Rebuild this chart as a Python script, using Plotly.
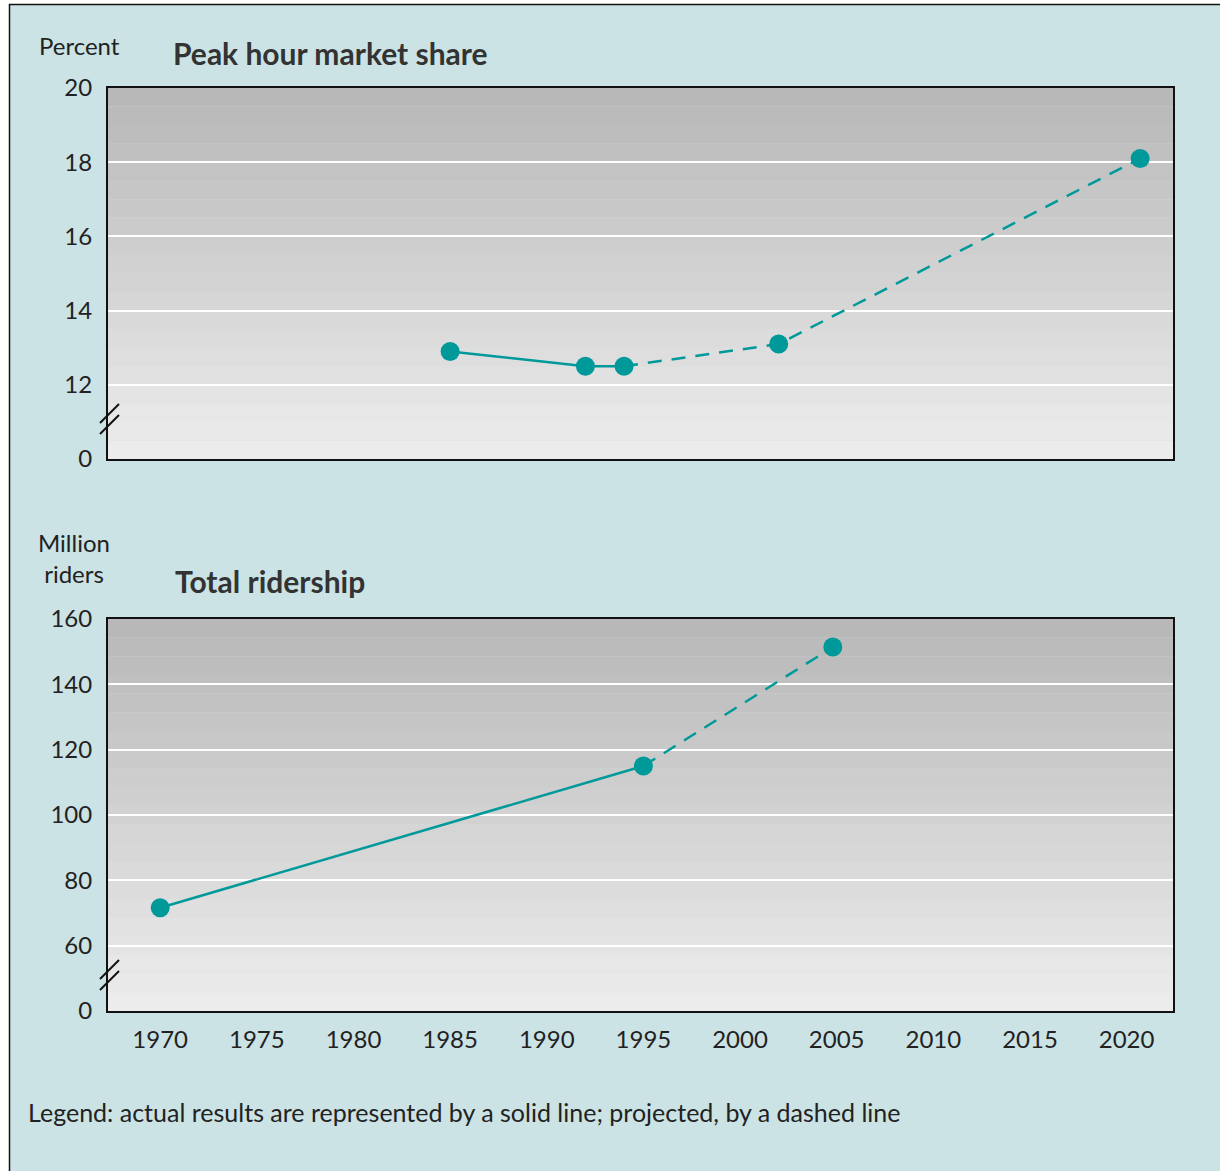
import plotly.graph_objects as go
from plotly.subplots import make_subplots

# Peak hour market share (percent)
share_actual_years = [1985, 1992, 1994]
share_actual_vals = [12.9, 12.5, 12.5]
share_proj_years = [1994, 2002, 2020.7]
share_proj_vals = [12.5, 13.1, 18.1]

# Total ridership (million riders)
riders_actual_years = [1970, 1995]
riders_actual_vals = [71.6, 115]
riders_proj_years = [1995, 2004.8]
riders_proj_vals = [115, 151.4]

x_ticks = [1970, 1975, 1980, 1985, 1990, 1995, 2000, 2005, 2010, 2015, 2020]
# axis break: the "0" label sits one step below the first real tick
share_tickvals = [10, 12, 14, 16, 18, 20]
share_ticktext = ["0", "12", "14", "16", "18", "20"]
riders_tickvals = [40, 60, 80, 100, 120, 140, 160]
riders_ticktext = ["0", "60", "80", "100", "120", "140", "160"]

TEAL = "#00999a"
FONT = "Lato"
W, H = 1220, 1171
L, R, T, B = 108, 47, 88, 160
PW, PH = W - L - R, H - T - B

def px_x(px):
    return (px - L) / PW

def px_y(py):
    return (H - B - py) / PH

top_dom = [px_y(459), 1.0]
bot_dom = [0.0, px_y(619)]

fig = make_subplots(rows=2, cols=1, shared_xaxes=False, vertical_spacing=0.1)

def add_series(row, xa, ya, xp, yp):
    fig.add_trace(go.Scatter(x=xp, y=yp, mode="lines",
                             line=dict(color=TEAL, width=2.5, dash="14px,10px"),
                             showlegend=False, hoverinfo="skip"), row=row, col=1)
    fig.add_trace(go.Scatter(x=xa, y=ya, mode="lines",
                             line=dict(color=TEAL, width=2.5),
                             showlegend=False, hoverinfo="skip"), row=row, col=1)
    xs = xa + [v for v in xp if v not in xa]
    ys = ya + [v for x, v in zip(xp, yp) if x not in xa]
    fig.add_trace(go.Scatter(x=xs, y=ys, mode="markers",
                             marker=dict(color=TEAL, size=19),
                             showlegend=False), row=row, col=1)

add_series(1, share_actual_years, share_actual_vals, share_proj_years, share_proj_vals)
add_series(2, riders_actual_years, riders_actual_vals, riders_proj_years, riders_proj_vals)

shapes = []
# page panel with border on the left and top
shapes.append(dict(type="rect", xref="paper", yref="paper",
                   x0=px_x(9), x1=px_x(1225), y0=px_y(4), y1=px_y(1176),
                   fillcolor="#cbe3e5", line=dict(width=0), layer="below"))
shapes.append(dict(type="line", xref="paper", yref="paper",
                   x0=px_x(9.5), x1=px_x(9.5), y0=px_y(4), y1=px_y(1176),
                   line=dict(color="#111", width=1.5), layer="below"))
shapes.append(dict(type="line", xref="paper", yref="paper",
                   x0=px_x(9), x1=px_x(1225), y0=px_y(4.5), y1=px_y(4.5),
                   line=dict(color="#111", width=1.5), layer="below"))

# banded grey gradient inside each plot area
def bands(dom, n):
    lo, hi = dom
    for i in range(n):
        t = i / (n - 1)
        g = int(round(236 - (236 - 184) * t))
        shapes.append(dict(type="rect", xref="paper", yref="paper",
                           x0=0, x1=1, y0=lo + (hi - lo) * i / n,
                           y1=lo + (hi - lo) * (i + 1) / n,
                           fillcolor=f"rgb({g},{g},{g})", line=dict(width=0),
                           layer="below"))

bands(top_dom, 20)
bands(bot_dom, 21)

# axis break marks
def break_marks(py):
    for off in (-5.5, 5.5):
        shapes.append(dict(type="line", xref="paper", yref="paper",
                           x0=px_x(100), x1=px_x(119),
                           y0=px_y(py + off + 9.5), y1=px_y(py + off - 9.5),
                           line=dict(color="#111", width=2)))

break_marks(419)
break_marks(975)

annotations = [
    dict(text="Percent", x=px_x(79), y=px_y(46), xanchor="center", yanchor="middle",
         font=dict(size=24, color="#222", family=FONT)),
    dict(text="<b>Peak hour market share</b>", x=px_x(171), y=px_y(53),
         xanchor="left", yanchor="middle", font=dict(size=30, color="#333", family=FONT)),
    dict(text="Million<br>riders", x=px_x(74), y=px_y(558), xanchor="center",
         yanchor="middle", font=dict(size=24, color="#222", family=FONT)),
    dict(text="<b>Total ridership</b>", x=px_x(173), y=px_y(581),
         xanchor="left", yanchor="middle", font=dict(size=30, color="#333", family=FONT)),
    dict(text="Legend: actual results are represented by a solid line; projected, by a dashed line",
         x=px_x(26), y=px_y(1112), xanchor="left", yanchor="middle",
         font=dict(size=25, color="#222", family=FONT)),
]
for a in annotations:
    a.update(xref="paper", yref="paper", showarrow=False)

axis_common = dict(showline=True, mirror=True, linecolor="#111", linewidth=2,
                   zeroline=False, ticks="", tickfont=dict(size=24, color="#222", family=FONT))

fig.update_xaxes(range=[1967.3, 2022.4], tickvals=x_ticks, showgrid=False, **axis_common)
fig.update_xaxes(showticklabels=False, row=1, col=1)
fig.update_xaxes(ticklabelstandoff=6, row=2, col=1)
fig.update_yaxes(showgrid=True, gridcolor="white", gridwidth=2,
                 ticklabelstandoff=9, **axis_common)
fig.update_yaxes(range=[10, 20], tickvals=share_tickvals, ticktext=share_ticktext,
                 domain=top_dom, row=1, col=1)
fig.update_yaxes(range=[40, 160], tickvals=riders_tickvals, ticktext=riders_ticktext,
                 domain=bot_dom, row=2, col=1)

fig.update_layout(width=W, height=H, margin=dict(l=L, r=R, t=T, b=B),
                  paper_bgcolor="white", plot_bgcolor="rgba(0,0,0,0)",
                  shapes=shapes, annotations=annotations, showlegend=False,
                  font=dict(family=FONT))

fig.write_html("out.html")
